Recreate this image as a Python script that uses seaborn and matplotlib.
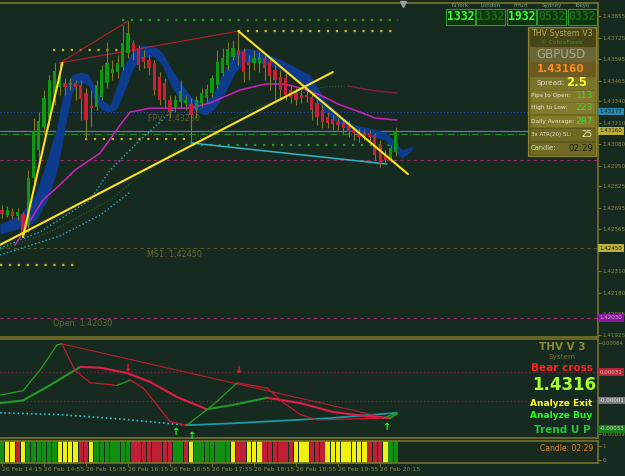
import numpy as np
import pandas as pd
import seaborn as sns
import matplotlib.pyplot as plt
from matplotlib.patches import Rectangle
from matplotlib.transforms import blended_transform_factory

# GBPUSD M5 candles, 26 Feb 14:15 .. 20:30
opens = [1.42681, 1.42651, 1.42675, 1.42645, 1.42657, 1.42591, 1.42875, 1.43044, 1.43183, 1.43238,
         1.43347, 1.43425, 1.43450, 1.43438, 1.43450, 1.43438, 1.43389, 1.43311, 1.43304, 1.43365,
         1.43450, 1.43510, 1.43516, 1.43546, 1.43631, 1.43692, 1.43661, 1.43607, 1.43589, 1.43571,
         1.43486, 1.43450, 1.43347, 1.43304, 1.43335, 1.43329, 1.43323, 1.43286, 1.43329, 1.43359,
         1.43389, 1.43438, 1.43510, 1.43559, 1.43607, 1.43649, 1.43637, 1.43577, 1.43571, 1.43571,
         1.43601, 1.43577, 1.43528, 1.43486, 1.43480, 1.43407, 1.43389, 1.43377, 1.43377, 1.43365,
         1.43329, 1.43286, 1.43244, 1.43232, 1.43214, 1.43208, 1.43190, 1.43165, 1.43153, 1.43147,
         1.43147, 1.43135, 1.43075, 1.43014, 1.42996, 1.43032]
closes = [1.42657, 1.42681, 1.42645, 1.42669, 1.42548, 1.42875, 1.43159, 1.43220, 1.43359, 1.43468,
          1.43522, 1.43480, 1.43425, 1.43450, 1.43425, 1.43353, 1.43226, 1.43298, 1.43438, 1.43528,
          1.43571, 1.43534, 1.43571, 1.43692, 1.43752, 1.43637, 1.43559, 1.43577, 1.43540, 1.43407,
          1.43347, 1.43347, 1.43274, 1.43347, 1.43401, 1.43347, 1.43256, 1.43347, 1.43389, 1.43413,
          1.43480, 1.43577, 1.43601, 1.43655, 1.43661, 1.43619, 1.43516, 1.43559, 1.43601, 1.43607,
          1.43540, 1.43492, 1.43468, 1.43407, 1.43377, 1.43365, 1.43347, 1.43359, 1.43365, 1.43286,
          1.43244, 1.43214, 1.43208, 1.43202, 1.43196, 1.43177, 1.43153, 1.43147, 1.43123, 1.43129,
          1.43123, 1.43014, 1.42966, 1.42984, 1.43056, 1.43160]
highs = [1.42712, 1.42706, 1.42693, 1.42693, 1.42669, 1.42923, 1.43238, 1.43274, 1.43407, 1.43498,
         1.43571, 1.43571, 1.43480, 1.43480, 1.43468, 1.43468, 1.43419, 1.43407, 1.43468, 1.43559,
         1.43698, 1.43589, 1.43619, 1.43801, 1.43825, 1.43710, 1.43680, 1.43649, 1.43619, 1.43589,
         1.43516, 1.43480, 1.43377, 1.43377, 1.43468, 1.43377, 1.43359, 1.43371, 1.43419, 1.43444,
         1.43498, 1.43649, 1.43661, 1.43698, 1.43710, 1.43764, 1.43661, 1.43619, 1.43649, 1.43637,
         1.43619, 1.43601, 1.43559, 1.43528, 1.43516, 1.43438, 1.43419, 1.43407, 1.43407, 1.43389,
         1.43347, 1.43317, 1.43274, 1.43256, 1.43238, 1.43226, 1.43226, 1.43183, 1.43177, 1.43165,
         1.43165, 1.43147, 1.43105, 1.43044, 1.43075, 1.43183]
lows = [1.42633, 1.42639, 1.42627, 1.42621, 1.42518, 1.42548, 1.42851, 1.42984, 1.43135, 1.43196,
        1.43317, 1.43377, 1.43377, 1.43407, 1.43347, 1.43226, 1.43117, 1.43183, 1.43286, 1.43347,
        1.43419, 1.43468, 1.43480, 1.43528, 1.43601, 1.43589, 1.43528, 1.43540, 1.43498, 1.43377,
        1.43317, 1.43298, 1.43238, 1.43274, 1.43298, 1.43286, 1.43087, 1.43238, 1.43304, 1.43335,
        1.43365, 1.43419, 1.43492, 1.43528, 1.43589, 1.43559, 1.43456, 1.43468, 1.43528, 1.43516,
        1.43468, 1.43407, 1.43347, 1.43347, 1.43347, 1.43329, 1.43317, 1.43329, 1.43335, 1.43226,
        1.43196, 1.43177, 1.43177, 1.43165, 1.43165, 1.43147, 1.43123, 1.43105, 1.43093, 1.43105,
        1.43093, 1.42984, 1.42941, 1.42966, 1.42972, 1.43008]

time_labels = ['26 Feb 14:15', '26 Feb 14:55', '26 Feb 15:35', '26 Feb 16:15', '26 Feb 16:55',
               '26 Feb 17:35', '26 Feb 18:15', '26 Feb 18:55', '26 Feb 19:35', '26 Feb 20:15']
price_ticks = [1.43855, 1.43725, 1.43595, 1.43465, 1.43340, 1.43210, 1.43080, 1.42950,
               1.42825, 1.42695, 1.42565, 1.42310, 1.42180, 1.42055, 1.41925]

# blue band (bar position, upper, lower)
band_x = [-0.4, 3.4, 6.3, 8.6, 10.5, 11.4, 12.4, 13.3, 14.9, 16.4, 17.7, 19.0, 20.6, 21.9, 23.0,
          25.0, 26.9, 28.8, 30.5, 32.4, 34.3, 36.2, 38.7, 40.6, 42.5, 44.4, 46.3, 48.8, 51.0, 53.3,
          55.8, 58.7, 61.5, 64.4, 67.2, 70.1, 73.0, 74.5, 76.2, 78.1]
band_top = [1.42597, 1.42651, 1.42772, 1.42984, 1.43196, 1.43347, 1.43450, 1.43498, 1.43516, 1.43504,
            1.43425, 1.43347, 1.43317, 1.43438, 1.43546, 1.43649, 1.43680, 1.43674, 1.43637, 1.43528,
            1.43438, 1.43359, 1.43329, 1.43407, 1.43540, 1.43637, 1.43661, 1.43649, 1.43619, 1.43589,
            1.43546, 1.43498, 1.43347, 1.43256, 1.43196, 1.43177, 1.43153, 1.43105, 1.43044, 1.43069]
band_bot = [1.42536, 1.42572, 1.42609, 1.42742, 1.42923, 1.43075, 1.43244, 1.43389, 1.43456, 1.43438,
            1.43347, 1.43286, 1.43274, 1.43298, 1.43377, 1.43540, 1.43607, 1.43613, 1.43559, 1.43419,
            1.43335, 1.43286, 1.43256, 1.43298, 1.43395, 1.43516, 1.43577, 1.43577, 1.43559, 1.43528,
            1.43468, 1.43395, 1.43274, 1.43196, 1.43147, 1.43129, 1.43105, 1.43044, 1.42996, 1.43044]

ma_x = [2.5, 4.0, 7.8, 11.0, 13.9, 18.7, 22.5, 24.4, 28.2, 33.0, 35.8, 39.6, 45.3, 50.1, 53.9,
        56.8, 60.6, 64.4, 68.2, 71.0, 75.2]
ma_y = [1.42470, 1.42548, 1.42742, 1.42833, 1.42923, 1.43026, 1.43196, 1.43274, 1.43298, 1.43298,
        1.43298, 1.43329, 1.43407, 1.43444, 1.43444, 1.43419, 1.43377, 1.43317, 1.43274, 1.43238, 1.43226]
slow_x = [-0.4, 9.1, 20.6, 27.6, 37.7, 47.2, 54.3, 61.1, 65.9, 70.1, 75.2]
slow_y = [1.42439, 1.42548, 1.42742, 1.42923, 1.43135, 1.43286, 1.43365, 1.43425, 1.43432, 1.43407, 1.43389]
cyan_a_x = [-0.4, 7.2, 16.8, 20.6, 26.3, 32.6]
cyan_a_y = [1.42451, 1.42548, 1.42742, 1.42923, 1.43105, 1.43286]
cyan_b_x = [-0.4, 11.0, 18.7, 24.4]
cyan_b_y = [1.42409, 1.42524, 1.42651, 1.42790]

zig_x = [4, 11.5]
zig_y = [1.42518, 1.43571]
down_tl_x = [45, 77.3]
down_tl_y = [1.43764, 1.42899]
up_tl_x = [-0.4, 63.0]
up_tl_y = [1.42470, 1.43516]
red_a_x = [11, 24]
red_a_y = [1.43571, 1.43825]
red_b_x = [11, 45]
red_b_y = [1.43571, 1.43764]
cyan_line_x = [36, 73.3]
cyan_line_y = [1.43087, 1.42960]

lvl_price = [1.43649, 1.43831, 1.43764, 1.43111, 1.43075, 1.42349]
lvl_start = [9.7, 22.9, 45.0, 15.8, 36.2, -0.4]
lvl_end = [22.9, 75.4, 75.4, 35.2, 75.4, 14.9]
lvl_color = ['#c8b828', '#2a9a2a', '#c8b828', '#c8b828', '#2a9a2a', '#c8b828']

# indicator window
fast_x = [-0.4, 4.0, 7.2, 10.5, 11.4, 13.9, 16.8, 18.7, 21.9, 24.4, 26.9, 29.5, 32.0, 35.2,
          40.2, 44.8, 50.5, 53.5, 56.8, 60.0, 66.3, 72.6, 75.2]
fast_y = [0.00005, 0.00010, 0.00033, 0.00062, 0.00063, 0.00033, 0.00019, 0.00018, 0.00016, 0.00022,
          0.00013, -0.00006, -0.00025, -0.00029, -0.00006, 0.00019, 0.00013, -0.00003, -0.00017,
          -0.00023, -0.00022, -0.00021, -0.00015]
fast_dir = 'ggggrrrrgrrrrggrrrrrrg'
slow2_x = [-0.4, 4.0, 9.1, 14.9, 18.7, 23.8, 28.2, 33.3, 39.0, 44.0, 50.5, 56.8, 63.0, 69.5, 73.9, 75.2]
slow2_y = [-0.00004, -0.00001, 0.00016, 0.00037, 0.00036, 0.00030, 0.00020, 0.00003, -0.00011,
           -0.00006, 0.00002, -0.00004, -0.00014, -0.00019, -0.00021, -0.00016]
slow_dir = 'gggrrrrrggrrrrg'
sig_x = [-0.4, 11.0, 22.5, 35.2, 43.4, 53.0, 62.5, 75.2]
sig_y = [-0.00015, -0.00017, -0.00022, -0.00029, -0.00027, -0.00024, -0.00021, -0.00015]
ind_tl_x = [11.4, 72.6]
ind_tl_y = [0.00063, -0.00020]
ind_levels = [0.00031, -0.00002]
bear_x = [23.8, 45.0]
bear_y = [0.00036, 0.00033]
bull_x = [33.0, 36.0, 73.1]
bull_y = [-0.00037, -0.00041, -0.00031]

trend_state = 'GYYRYGGGGGGYYYYRRYGGGGGGGRRRRRRRRGGRYGGGGGGGYRRYYYRRRRRRYYYRRRYYYYYYYYRRRYGG'

W, H = 625, 476
BG = '#172a1f'
OLIVE = '#77732c'
TXT = '#8c8a4a'

sns.set_style('dark', {'axes.facecolor': BG, 'figure.facecolor': BG})
plt.rcParams['font.family'] = ['DejaVu Sans']


def fx(x):
    return x / W


def fy(y):
    return 1 - y / H


def line(a, xs, ys, color, lw=1.0, ls='-', z=3):
    sns.lineplot(x=xs, y=ys, ax=a, color=color, lw=lw, linestyle=ls, sort=False,
                 estimator=None, legend=False, zorder=z)


def tag(a, y, s, fc, tc):
    tr = blended_transform_factory(a.transAxes, a.transData)
    a.text(1.003, y, s, transform=tr, fontsize=4.0, color=tc, va='center', ha='left', clip_on=False,
           zorder=8, bbox=dict(boxstyle='square,pad=0.25', fc=fc, ec='none'))


fig = plt.figure(figsize=(6.25, 4.76), dpi=100)
ax = fig.add_axes([0, fy(337), fx(598), 334 / H])
ai = fig.add_axes([0, fy(438), fx(598), 99 / H], sharex=ax)
ab = fig.add_axes([0, fy(463), fx(598), 22 / H], sharex=ax)

for a in (ax, ai, ab):
    a.set_facecolor(BG)
    for s in a.spines.values():
        s.set_color(OLIVE)
        s.set_linewidth(1.2)
    a.spines['left'].set_visible(False)
    a.yaxis.tick_right()
    a.tick_params(axis='y', colors=OLIVE, labelcolor=TXT, labelsize=4.1, length=2, pad=1)
    a.tick_params(axis='x', bottom=False, labelbottom=False)
    a.grid(False)
    a.set_xlabel('')
    a.set_ylabel('')
ai.tick_params(axis='y', labelsize=3.8, pad=0.8)

ax.set_xlim(-0.38, 113.5)

# ---- main price window ----
ax.fill_between(band_x, band_bot, band_top, color='#0d3c8e', lw=0, zorder=2)

ax.axhline(1.43277, color='#2a48c8', ls=(0, (1, 2)), lw=0.8, zorder=1)
ax.axhline(1.43160, color='#6a6ad0', lw=0.9, zorder=1)
ax.axhline(1.43141, color='#2a8a2a', ls='-.', lw=0.8, zorder=1)
ax.axhline(1.42984, color='#9a2a6a', ls=(0, (3, 3)), lw=0.8, zorder=1)
ax.axhline(1.42450, color='#5a5a2a', ls=(0, (3, 3)), lw=0.8, zorder=1)
ax.axhline(1.42030, color='#9a2a6a', ls=(0, (3, 3)), lw=0.8, zorder=1)
for p, x0, x1, c in zip(lvl_price, lvl_start, lvl_end, lvl_color):
    ax.hlines(p, x0, x1, color=c, ls=(0, (1, 3)), lw=1.6, zorder=1)

line(ax, slow_x[:9], slow_y[:9], '#1f6a2a', 0.8, ':')
line(ax, slow_x[8:], slow_y[8:], '#8a2040', 1.0, '-')
line(ax, cyan_a_x, cyan_a_y, '#2ab0c8', 1.0, ':')
line(ax, cyan_b_x, cyan_b_y, '#2ab0c8', 1.0, ':')
line(ax, ma_x, ma_y, '#d020c0', 1.1)
line(ax, cyan_line_x, cyan_line_y, '#30b8c8', 1.1)
line(ax, red_a_x, red_a_y, '#b81e30', 0.8)
line(ax, red_b_x, red_b_y, '#b81e30', 0.8)

idx = np.arange(len(opens))
o = np.array(opens)
c = np.array(closes)
up = c >= o
ax.vlines(idx, lows, highs, color='#857a22', lw=0.8, zorder=4)
body = np.maximum(np.abs(c - o), 0.00004)
ax.bar(idx, body, bottom=np.minimum(o, c), width=0.6,
       color=np.where(up, '#0e9a10', '#cc1e34'), lw=0, zorder=5)

line(ax, zig_x, zig_y, '#ffe21a', 1.5, z=6)
line(ax, down_tl_x, down_tl_y, '#ffe21a', 1.5, z=6)
line(ax, up_tl_x, up_tl_y, '#ffe21a', 1.5, z=6)

ax.text(27.6, 1.42415, 'MS1: 1.42450', color='#6a6832', fontsize=5.8, va='center')
ax.text(9.7, 1.41994, 'Open: 1.42030', color='#6a6832', fontsize=5.8, va='center')
ax.text(27.8, 1.43238, 'FPV: 1.43230', color='#5e5c30', fontsize=5.8, va='center', zorder=3)
ax.plot([76.4], [1.43925], marker='v', color='#a0a0a0', ms=4, clip_on=False, zorder=7)

ax.set_ylim(1.41913, 1.43934)
ax.set_yticks(price_ticks)
ax.set_yticklabels([f'{v:.5f}' for v in price_ticks])
tag(ax, 1.43277, '1.43277', '#2a88a8', '#0c2a34')
tag(ax, 1.43160, '1.43160', '#b8ae40', '#2a2810')
tag(ax, 1.42450, '1.42450', '#b8ae40', '#2a2810')
tag(ax, 1.42030, '1.42030', '#8a1a9a', '#d8a0e0')

# ---- indicator window ----
for lv in ind_levels:
    ai.axhline(lv, color='#8a2040', ls=(0, (1, 2)), lw=0.9, zorder=1)
line(ai, sig_x[:4], sig_y[:4], '#2ac8d8', 1.2, ':')
line(ai, sig_x[3:], sig_y[3:], '#1a9aa6', 1.3)
line(ai, ind_tl_x, ind_tl_y, '#b81e30', 0.8)
for k, d in enumerate(slow_dir):
    line(ai, slow2_x[k:k + 2], slow2_y[k:k + 2], '#1f9a2a' if d == 'g' else '#e01c4a', 1.5)
for k, d in enumerate(fast_dir):
    line(ai, fast_x[k:k + 2], fast_y[k:k + 2], '#22a022' if d == 'g' else '#c8182e', 0.9)
for x, y in zip(bear_x, bear_y):
    ai.text(x, y, '↓', color='#ff2020', fontsize=7, fontweight='bold', ha='center', va='center')
for x, y in zip(bull_x, bull_y):
    ai.text(x, y, '↑', color='#20ff20', fontsize=7, fontweight='bold', ha='center', va='center')
ai.set_ylim(-0.000435, 0.000685)
ai.set_yticks([0.00064, -0.00039])
ai.set_yticklabels(['0.00064', '-0.00039'])
tag(ai, 0.00031, '0.00031', '#b02838', '#f0c8c8')
tag(ai, -0.00001, '-0.00001', '#7a7a76', '#e8e8e8')
tag(ai, -0.00033, '-0.00033', '#1a7a1a', '#c8f0c8')

# ---- trend bars ----
pal = {'G': '#129012', 'Y': '#f0f010', 'R': '#c02036'}
ab.bar(idx, 1.6, bottom=-0.22, width=0.85, color=[pal[s] for s in trend_state], lw=0)
ab.set_ylim(-0.214, 1.356)
ab.set_yticks([1, 0])
ab.set_yticklabels(['1', '0'])
ab.set_xticks(np.arange(0, 76, 8))
ab.set_xticklabels(time_labels, ha='left')
ab.tick_params(axis='x', bottom=True, labelbottom=True, colors=OLIVE, labelcolor=TXT,
               labelsize=4.4, length=2, pad=1)
ax.set_xlim(-0.38, 113.5)


# ---- overlay panels in pixel space ----
def box(x0, y0, x1, y1, fc, ec=None, lw=0.6):
    fig.add_artist(Rectangle((fx(x0), fy(y1)), (x1 - x0) / W, (y1 - y0) / H, transform=fig.transFigure,
                             fc=fc, ec=ec or fc, lw=lw, zorder=10))


def ftext(x, y, s, color, size, ha='center', weight='normal', family=None):
    kw = {'family': family} if family else {}
    fig.text(fx(x), fy(y), s, color=color, fontsize=size, ha=ha, va='center',
             fontweight=weight, zorder=11, **kw)


cities = ['N.York', 'London', 'Frfurt', 'Sydney', 'Tokyo']
city_times = ['1332', '1332', '1932', '0532', '0332']
city_lit = [True, False, True, False, False]
for k, (nm, tm, lit) in enumerate(zip(cities, city_times, city_lit)):
    x0 = 446 + 30.4 * k
    box(x0, 9, x0 + 29, 24.5, '#0c360c', '#2a9a2a', 0.8)
    ftext(x0 + 14.5, 5.5, nm, '#7aa07a', 4.0)
    ftext(x0 + 14.5, 16.8, tm, '#3cff3c' if lit else '#1e6a1e', 8.3, weight='bold',
          family='DejaVu Sans Mono')

box(528, 27, 596, 156, '#5c581c', '#8c8632', 0.8)
box(529.5, 28.5, 594.5, 46, '#474418')
ftext(562, 34, 'THV System V3', '#b4ac5a', 5.8)
ftext(562, 42, '© CobraForex', '#2ca02c', 4.2)
box(529.5, 47, 594.5, 62, '#6a6638')
ftext(561, 55, 'GBPUSD', '#aaa88c', 8.5)
box(529.5, 62.5, 594.5, 76, '#6c5a22')
ftext(561, 69, '1.43160', '#ff8a1a', 7.5, weight='bold')
box(529.5, 76.5, 594.5, 90, '#7a7428')
ftext(565, 83.5, 'Spread:', '#dcdccc', 5.3, ha='right')
ftext(566, 83, '2.5', '#ffff30', 8.5, ha='left', weight='bold')
rows = [('Pips to Open:', '113', 96), ('High to Low:', '223', 108), ('Daily Average:', '287', 121)]
for lab, val, y in rows:
    box(529.5, y - 5.5, 594.5, y + 5.5, '#837b2c', '#6e6822', 0.5)
    ftext(531, y, lab, '#e4e4d4', 4.2, ha='left')
    ftext(593, y, val, '#32e032', 6.6, ha='right')
box(529.5, 128, 594.5, 141, '#6e6a24', '#5c581c', 0.5)
ftext(531, 134.5, '3x ATR(20) SL:', '#e4e4d4', 4.0, ha='left')
ftext(593, 134.5, '25', '#f4f4b8', 6.3, ha='right')
box(529.5, 142, 594.5, 155, '#6e6a24', '#5c581c', 0.5)
ftext(531, 148.5, 'Candle:', '#d8d8c8', 4.8, ha='left')
ftext(593, 148.5, '02:29', '#1e1e10', 6.3, ha='right')

ftext(562, 347, 'THV V 3', '#8c8a30', 7.5, weight='bold')
ftext(562, 357, 'System', '#6c6a34', 5.2)
ftext(562, 368, 'Bear cross', '#ff2020', 7.5, weight='bold')
ftext(564, 384.5, '1.4316', '#a6ff2a', 12, weight='bold')
ftext(561, 404, 'Analyze Exit', '#ffff1a', 6.5, weight='bold')
ftext(561, 416, 'Analyze Buy', '#1aff1a', 6.5, weight='bold')
ftext(562, 430, 'Trend U P', '#22c83a', 7.5, weight='bold')
ftext(567, 448.5, 'Candle: 02:29', '#e08a30', 5.5)

fig.savefig('out.png', dpi=100, facecolor=BG)
